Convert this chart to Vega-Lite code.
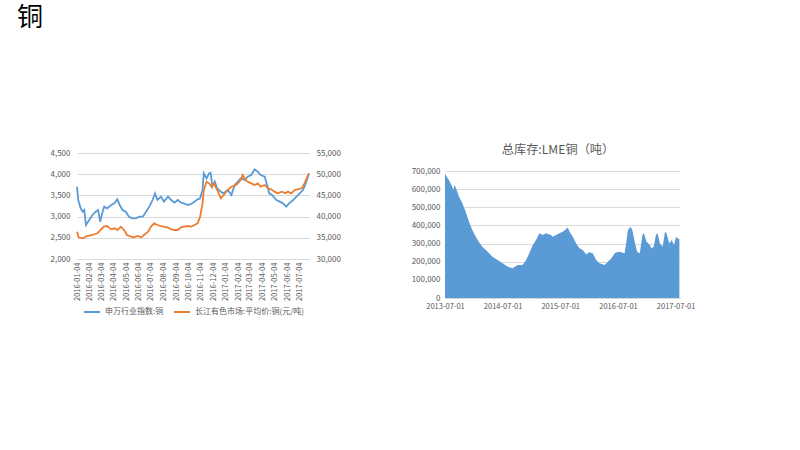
{
  "$schema": "https://vega.github.io/schema/vega-lite/v6.json",
  "padding": {"left": 17, "top": 4, "right": 5, "bottom": 5},
  "background": "white",
  "title": {"text": "铜", "anchor": "start", "fontSize": 26, "font": "Noto Sans CJK SC", "fontWeight": "normal", "color": "#000000", "dx": -33, "offset": 113},
  "config": {
    "view": {"stroke": null},
    "font": "Noto Sans CJK SC",
    "axis": {"labelColor": "#595959", "labelFontSize": 8, "labelFont": "Noto Sans CJK SC", "gridColor": "#D9D9D9", "gridWidth": 1, "domain": false, "ticks": false, "title": null},
    "legend": {"layout": {"bottom": {"anchor": "middle"}}}
  },
  "resolve": {"scale": {"color": "independent"}, "legend": {"color": "independent"}},
  "spacing": 70,
  "hconcat": [
    {
      "width": 232,
      "height": 106,
      "data": {
        "format": {"parse": {"d": "date:'%Y-%m-%d'"}},
        "values": [
          {"d":"2016-01-04","s":"申万行业指数:铜","v":3705},{"d":"2016-01-07","s":"申万行业指数:铜","v":3391},{"d":"2016-01-13","s":"申万行业指数:铜","v":3195},{"d":"2016-01-18","s":"申万行业指数:铜","v":3116},{"d":"2016-01-22","s":"申万行业指数:铜","v":3156},{"d":"2016-01-26","s":"申万行业指数:铜","v":2802},{"d":"2016-02-03","s":"申万行业指数:铜","v":2920},{"d":"2016-02-11","s":"申万行业指数:铜","v":3038},{"d":"2016-02-19","s":"申万行业指数:铜","v":3116},{"d":"2016-02-25","s":"申万行业指数:铜","v":3156},{"d":"2016-03-01","s":"申万行业指数:铜","v":2880},{"d":"2016-03-07","s":"申万行业指数:铜","v":3116},{"d":"2016-03-11","s":"申万行业指数:铜","v":3234},{"d":"2016-03-18","s":"申万行业指数:铜","v":3195},{"d":"2016-03-28","s":"申万行业指数:铜","v":3274},{"d":"2016-04-05","s":"申万行业指数:铜","v":3313},{"d":"2016-04-12","s":"申万行业指数:铜","v":3407},{"d":"2016-04-18","s":"申万行业指数:铜","v":3274},{"d":"2016-04-25","s":"申万行业指数:铜","v":3156},{"d":"2016-05-03","s":"申万行业指数:铜","v":3116},{"d":"2016-05-11","s":"申万行业指数:铜","v":2998},{"d":"2016-05-19","s":"申万行业指数:铜","v":2959},{"d":"2016-05-27","s":"申万行业指数:铜","v":2959},{"d":"2016-06-06","s":"申万行业指数:铜","v":2998},{"d":"2016-06-14","s":"申万行业指数:铜","v":2998},{"d":"2016-06-22","s":"申万行业指数:铜","v":3116},{"d":"2016-06-30","s":"申万行业指数:铜","v":3234},{"d":"2016-07-08","s":"申万行业指数:铜","v":3391},{"d":"2016-07-14","s":"申万行业指数:铜","v":3549},{"d":"2016-07-20","s":"申万行业指数:铜","v":3391},{"d":"2016-07-29","s":"申万行业指数:铜","v":3470},{"d":"2016-08-05","s":"申万行业指数:铜","v":3352},{"d":"2016-08-15","s":"申万行业指数:铜","v":3470},{"d":"2016-08-23","s":"申万行业指数:铜","v":3391},{"d":"2016-08-31","s":"申万行业指数:铜","v":3329},{"d":"2016-09-08","s":"申万行业指数:铜","v":3391},{"d":"2016-09-16","s":"申万行业指数:铜","v":3329},{"d":"2016-09-23","s":"申万行业指数:铜","v":3313},{"d":"2016-10-03","s":"申万行业指数:铜","v":3274},{"d":"2016-10-11","s":"申万行业指数:铜","v":3297},{"d":"2016-10-19","s":"申万行业指数:铜","v":3352},{"d":"2016-10-27","s":"申万行业指数:铜","v":3407},{"d":"2016-11-02","s":"申万行业指数:铜","v":3431},{"d":"2016-11-08","s":"申万行业指数:铜","v":3627},{"d":"2016-11-11","s":"申万行业指数:铜","v":4020},{"d":"2016-11-18","s":"申万行业指数:铜","v":3902},{"d":"2016-11-24","s":"申万行业指数:铜","v":4020},{"d":"2016-11-28","s":"申万行业指数:铜","v":4036},{"d":"2016-12-02","s":"申万行业指数:铜","v":3706},{"d":"2016-12-08","s":"申万行业指数:铜","v":3824},{"d":"2016-12-14","s":"申万行业指数:铜","v":3667},{"d":"2016-12-23","s":"申万行业指数:铜","v":3588},{"d":"2016-12-30","s":"申万行业指数:铜","v":3549},{"d":"2017-01-09","s":"申万行业指数:铜","v":3627},{"d":"2017-01-18","s":"申万行业指数:铜","v":3509},{"d":"2017-01-26","s":"申万行业指数:铜","v":3745},{"d":"2017-02-03","s":"申万行业指数:铜","v":3824},{"d":"2017-02-10","s":"申万行业指数:铜","v":3902},{"d":"2017-02-20","s":"申万行业指数:铜","v":3863},{"d":"2017-02-27","s":"申万行业指数:铜","v":3942},{"d":"2017-03-08","s":"申万行业指数:铜","v":3981},{"d":"2017-03-16","s":"申万行业指数:铜","v":4115},{"d":"2017-03-24","s":"申万行业指数:铜","v":4060},{"d":"2017-03-31","s":"申万行业指数:铜","v":3981},{"d":"2017-04-10","s":"申万行业指数:铜","v":3942},{"d":"2017-04-17","s":"申万行业指数:铜","v":3706},{"d":"2017-04-21","s":"申万行业指数:铜","v":3549},{"d":"2017-04-28","s":"申万行业指数:铜","v":3509},{"d":"2017-05-09","s":"申万行业指数:铜","v":3391},{"d":"2017-05-17","s":"申万行业指数:铜","v":3352},{"d":"2017-05-25","s":"申万行业指数:铜","v":3313},{"d":"2017-06-02","s":"申万行业指数:铜","v":3234},{"d":"2017-06-09","s":"申万行业指数:铜","v":3313},{"d":"2017-06-19","s":"申万行业指数:铜","v":3391},{"d":"2017-06-27","s":"申万行业指数:铜","v":3470},{"d":"2017-07-05","s":"申万行业指数:铜","v":3549},{"d":"2017-07-13","s":"申万行业指数:铜","v":3627},{"d":"2017-07-17","s":"申万行业指数:铜","v":3706},{"d":"2017-07-24","s":"申万行业指数:铜","v":3902},{"d":"2017-07-28","s":"申万行业指数:铜","v":4020},
          {"d":"2016-01-04","s":"长江有色市场:平均价:铜(元/吨)","v":36446},{"d":"2016-01-08","s":"长江有色市场:平均价:铜(元/吨)","v":35110},{"d":"2016-01-18","s":"长江有色市场:平均价:铜(元/吨)","v":34874},{"d":"2016-01-29","s":"长江有色市场:平均价:铜(元/吨)","v":35424},{"d":"2016-02-11","s":"长江有色市场:平均价:铜(元/吨)","v":35660},{"d":"2016-02-23","s":"长江有色市场:平均价:铜(元/吨)","v":36053},{"d":"2016-03-02","s":"长江有色市场:平均价:铜(元/吨)","v":36839},{"d":"2016-03-10","s":"长江有色市场:平均价:铜(元/吨)","v":37625},{"d":"2016-03-18","s":"长江有色市场:平均价:铜(元/吨)","v":37782},{"d":"2016-03-28","s":"长江有色市场:平均价:铜(元/吨)","v":36996},{"d":"2016-04-05","s":"长江有色市场:平均价:铜(元/吨)","v":37232},{"d":"2016-04-13","s":"长江有色市场:平均价:铜(元/吨)","v":36839},{"d":"2016-04-21","s":"长江有色市场:平均价:铜(元/吨)","v":37625},{"d":"2016-04-29","s":"长江有色市场:平均价:铜(元/吨)","v":36839},{"d":"2016-05-06","s":"长江有色市场:平均价:铜(元/吨)","v":35660},{"d":"2016-05-16","s":"长江有色市场:平均价:铜(元/吨)","v":35267},{"d":"2016-05-23","s":"长江有色市场:平均价:铜(元/吨)","v":35110},{"d":"2016-06-01","s":"长江有色市场:平均价:铜(元/吨)","v":35424},{"d":"2016-06-10","s":"长江有色市场:平均价:铜(元/吨)","v":35110},{"d":"2016-06-17","s":"长江有色市场:平均价:铜(元/吨)","v":35660},{"d":"2016-06-27","s":"长江有色市场:平均价:铜(元/吨)","v":36446},{"d":"2016-07-04","s":"长江有色市场:平均价:铜(元/吨)","v":37625},{"d":"2016-07-12","s":"长江有色市场:平均价:铜(元/吨)","v":38411},{"d":"2016-07-20","s":"长江有色市场:平均价:铜(元/吨)","v":38018},{"d":"2016-07-29","s":"长江有色市场:平均价:铜(元/吨)","v":37782},{"d":"2016-08-05","s":"长江有色市场:平均价:铜(元/吨)","v":37625},{"d":"2016-08-15","s":"长江有色市场:平均价:铜(元/吨)","v":37390},{"d":"2016-08-23","s":"长江有色市场:平均价:铜(元/吨)","v":36996},{"d":"2016-08-31","s":"长江有色市场:平均价:铜(元/吨)","v":36839},{"d":"2016-09-08","s":"长江有色市场:平均价:铜(元/吨)","v":36839},{"d":"2016-09-16","s":"长江有色市场:平均价:铜(元/吨)","v":37468},{"d":"2016-09-23","s":"长江有色市场:平均价:铜(元/吨)","v":37625},{"d":"2016-10-03","s":"长江有色市场:平均价:铜(元/吨)","v":37782},{"d":"2016-10-11","s":"长江有色市场:平均价:铜(元/吨)","v":37625},{"d":"2016-10-19","s":"长江有色市场:平均价:铜(元/吨)","v":38018},{"d":"2016-10-27","s":"长江有色市场:平均价:铜(元/吨)","v":38411},{"d":"2016-11-02","s":"长江有色市场:平均价:铜(元/吨)","v":39984},{"d":"2016-11-08","s":"长江有色市场:平均价:铜(元/吨)","v":43128},{"d":"2016-11-11","s":"长江有色市场:平均价:铜(元/吨)","v":46273},{"d":"2016-11-18","s":"长江有色市场:平均价:铜(元/吨)","v":48239},{"d":"2016-11-24","s":"长江有色市场:平均价:铜(元/吨)","v":47846},{"d":"2016-11-30","s":"长江有色市场:平均价:铜(元/吨)","v":47060},{"d":"2016-12-06","s":"长江有色市场:平均价:铜(元/吨)","v":47846},{"d":"2016-12-14","s":"长江有色市场:平均价:铜(元/吨)","v":46273},{"d":"2016-12-23","s":"长江有色市场:平均价:铜(元/吨)","v":44308},{"d":"2016-12-30","s":"长江有色市场:平均价:铜(元/吨)","v":45094},{"d":"2017-01-09","s":"长江有色市场:平均价:铜(元/吨)","v":46273},{"d":"2017-01-18","s":"长江有色市场:平均价:铜(元/吨)","v":47060},{"d":"2017-01-26","s":"长江有色市场:平均价:铜(元/吨)","v":47217},{"d":"2017-02-03","s":"长江有色市场:平均价:铜(元/吨)","v":47846},{"d":"2017-02-10","s":"长江有色市场:平均价:铜(元/吨)","v":48632},{"d":"2017-02-15","s":"长江有色市场:平均价:铜(元/吨)","v":49811},{"d":"2017-02-21","s":"长江有色市场:平均价:铜(元/吨)","v":48632},{"d":"2017-02-27","s":"长江有色市场:平均价:铜(元/吨)","v":48239},{"d":"2017-03-08","s":"长江有色市场:平均价:铜(元/吨)","v":47846},{"d":"2017-03-16","s":"长江有色市场:平均价:铜(元/吨)","v":47453},{"d":"2017-03-24","s":"长江有色市场:平均价:铜(元/吨)","v":47846},{"d":"2017-03-31","s":"长江有色市场:平均价:铜(元/吨)","v":47060},{"d":"2017-04-10","s":"长江有色市场:平均价:铜(元/吨)","v":47453},{"d":"2017-04-18","s":"长江有色市场:平均价:铜(元/吨)","v":46667},{"d":"2017-04-26","s":"长江有色市场:平均价:铜(元/吨)","v":46431},{"d":"2017-05-04","s":"长江有色市场:平均价:铜(元/吨)","v":45880},{"d":"2017-05-12","s":"长江有色市场:平均价:铜(元/吨)","v":45487},{"d":"2017-05-22","s":"长江有色市场:平均价:铜(元/吨)","v":45880},{"d":"2017-05-31","s":"长江有色市场:平均价:铜(元/吨)","v":45487},{"d":"2017-06-06","s":"长江有色市场:平均价:铜(元/吨)","v":45880},{"d":"2017-06-14","s":"长江有色市场:平均价:铜(元/吨)","v":45487},{"d":"2017-06-23","s":"长江有色市场:平均价:铜(元/吨)","v":46273},{"d":"2017-06-30","s":"长江有色市场:平均价:铜(元/吨)","v":46431},{"d":"2017-07-10","s":"长江有色市场:平均价:铜(元/吨)","v":46667},{"d":"2017-07-17","s":"长江有色市场:平均价:铜(元/吨)","v":47846},{"d":"2017-07-24","s":"长江有色市场:平均价:铜(元/吨)","v":49418},{"d":"2017-07-28","s":"长江有色市场:平均价:铜(元/吨)","v":50204}
        ]
      },
      "encoding": {
        "x": {
          "field": "d", "type": "temporal",
          "scale": {"domain": [{"year": 2016, "month": 1, "date": 4}, {"year": 2017, "month": 7, "date": 28}]},
          "axis": {
            "values": [
              {"year": 2016, "month": 1, "date": 4}, {"year": 2016, "month": 2, "date": 4}, {"year": 2016, "month": 3, "date": 4}, {"year": 2016, "month": 4, "date": 4}, {"year": 2016, "month": 5, "date": 4}, {"year": 2016, "month": 6, "date": 4}, {"year": 2016, "month": 7, "date": 4}, {"year": 2016, "month": 8, "date": 4}, {"year": 2016, "month": 9, "date": 4}, {"year": 2016, "month": 10, "date": 4}, {"year": 2016, "month": 11, "date": 4}, {"year": 2016, "month": 12, "date": 4},
              {"year": 2017, "month": 1, "date": 4}, {"year": 2017, "month": 2, "date": 4}, {"year": 2017, "month": 3, "date": 4}, {"year": 2017, "month": 4, "date": 4}, {"year": 2017, "month": 5, "date": 4}, {"year": 2017, "month": 6, "date": 4}, {"year": 2017, "month": 7, "date": 4}
            ],
            "format": "%Y-%m-%d", "labelAngle": -90, "labelFontSize": 7.5, "labelOverlap": false, "labelFlush": false, "labelBound": false, "grid": false, "labelPadding": 3
          }
        }
      },
      "layer": [
        {
          "transform": [{"filter": "datum.s === '申万行业指数:铜'"}],
          "mark": {"type": "line", "strokeWidth": 1.8},
          "encoding": {
            "y": {"field": "v", "type": "quantitative", "scale": {"domain": [2000, 4500], "nice": false, "zero": false},
                  "axis": {"values": [2000, 2500, 3000, 3500, 4000, 4500], "format": ",d", "grid": true, "labelPadding": 7}},
            "color": {"field": "s", "type": "nominal",
                      "scale": {"domain": ["申万行业指数:铜", "长江有色市场:平均价:铜(元/吨)"], "range": ["#5B9BD5", "#ED7D31"]},
                      "legend": {"orient": "bottom", "direction": "horizontal", "title": null, "symbolType": "stroke", "symbolStrokeWidth": 2, "symbolSize": 256, "labelFontSize": 8, "labelColor": "#595959", "columnPadding": 6, "labelLimit": 300, "offset": 2}}
          }
        },
        {
          "transform": [{"filter": "datum.s === '长江有色市场:平均价:铜(元/吨)'"}],
          "mark": {"type": "line", "strokeWidth": 1.8},
          "encoding": {
            "y": {"field": "v", "type": "quantitative", "scale": {"domain": [30000, 55000], "nice": false, "zero": false},
                  "axis": {"orient": "right", "values": [30000, 35000, 40000, 45000, 50000, 55000], "format": ",d", "grid": false, "labelPadding": 7}},
            "color": {"field": "s", "type": "nominal"}
          }
        }
      ],
      "resolve": {"scale": {"y": "independent"}}
    },
    {
      "width": 235,
      "height": 145,
      "title": {"text": "总库存:LME铜（吨）", "fontSize": 12.2, "fontWeight": "normal", "color": "#595959", "frame": "group", "dx": -4.5, "offset": -3},
      "data": {
        "format": {"parse": {"d": "date:'%Y-%m-%d'"}},
        "values": [
          {"d":"2013-07-01","v":687000},{"d":"2013-07-05","v":678000},{"d":"2013-07-26","v":650000},{"d":"2013-08-16","v":613000},{"d":"2013-08-22","v":595000},{"d":"2013-08-31","v":623000},{"d":"2013-09-13","v":595000},{"d":"2013-09-28","v":558000},{"d":"2013-10-19","v":522000},{"d":"2013-11-09","v":476000},{"d":"2013-11-30","v":420000},{"d":"2013-12-21","v":375000},{"d":"2014-01-12","v":338000},{"d":"2014-02-02","v":307000},{"d":"2014-02-23","v":283000},{"d":"2014-03-17","v":265000},{"d":"2014-04-07","v":246000},{"d":"2014-04-28","v":228000},{"d":"2014-05-30","v":210000},{"d":"2014-07-01","v":191000},{"d":"2014-08-01","v":173000},{"d":"2014-09-02","v":164000},{"d":"2014-10-04","v":182000},{"d":"2014-11-05","v":182000},{"d":"2014-11-27","v":210000},{"d":"2014-12-17","v":246000},{"d":"2015-01-08","v":292000},{"d":"2015-01-29","v":320000},{"d":"2015-02-19","v":357000},{"d":"2015-03-12","v":347000},{"d":"2015-04-02","v":357000},{"d":"2015-05-04","v":347000},{"d":"2015-05-14","v":338000},{"d":"2015-06-05","v":347000},{"d":"2015-06-26","v":357000},{"d":"2015-07-17","v":365000},{"d":"2015-08-08","v":380000},{"d":"2015-08-18","v":388000},{"d":"2015-08-29","v":365000},{"d":"2015-09-19","v":338000},{"d":"2015-10-10","v":301000},{"d":"2015-10-31","v":274000},{"d":"2015-11-21","v":265000},{"d":"2015-12-12","v":241000},{"d":"2016-01-02","v":252000},{"d":"2016-01-23","v":246000},{"d":"2016-02-14","v":210000},{"d":"2016-03-06","v":191000},{"d":"2016-04-07","v":182000},{"d":"2016-04-28","v":200000},{"d":"2016-05-20","v":219000},{"d":"2016-06-10","v":246000},{"d":"2016-07-01","v":255000},{"d":"2016-07-22","v":252000},{"d":"2016-08-12","v":246000},{"d":"2016-08-23","v":310000},{"d":"2016-09-02","v":375000},{"d":"2016-09-18","v":393000},{"d":"2016-09-30","v":375000},{"d":"2016-10-15","v":310000},{"d":"2016-10-30","v":255000},{"d":"2016-11-16","v":246000},{"d":"2016-12-03","v":347000},{"d":"2016-12-13","v":357000},{"d":"2016-12-29","v":310000},{"d":"2017-01-19","v":292000},{"d":"2017-01-29","v":274000},{"d":"2017-02-13","v":283000},{"d":"2017-02-26","v":347000},{"d":"2017-03-09","v":357000},{"d":"2017-03-24","v":301000},{"d":"2017-04-10","v":283000},{"d":"2017-04-25","v":365000},{"d":"2017-05-05","v":357000},{"d":"2017-05-22","v":301000},{"d":"2017-06-06","v":320000},{"d":"2017-06-21","v":292000},{"d":"2017-07-04","v":338000},{"d":"2017-07-19","v":325000},{"d":"2017-07-25","v":325000}
        ]
      },
      "mark": {"type": "area", "color": "#5B9BD5", "opacity": 1},
      "encoding": {
        "x": {"field": "d", "type": "temporal",
              "scale": {"domain": [{"year": 2013, "month": 7, "date": 1}, {"year": 2017, "month": 7, "date": 29}]},
              "axis": {"values": [{"year": 2013, "month": 7, "date": 1}, {"year": 2014, "month": 7, "date": 1}, {"year": 2015, "month": 7, "date": 1}, {"year": 2016, "month": 7, "date": 1}, {"year": 2017, "month": 7, "date": 1}],
                       "format": "%Y-%m-%d", "labelAngle": 0, "labelFontSize": 7.5, "labelOverlap": false, "labelFlush": false, "labelBound": false, "grid": false, "domain": true, "domainColor": "#D9D9D9", "labelPadding": 4}},
        "y": {"field": "v", "type": "quantitative", "scale": {"domain": [0, 799213], "nice": false},
              "axis": {"values": [0, 100000, 200000, 300000, 400000, 500000, 600000, 700000], "format": ",d", "grid": true, "labelPadding": 5}}
      }
    }
  ]
}
